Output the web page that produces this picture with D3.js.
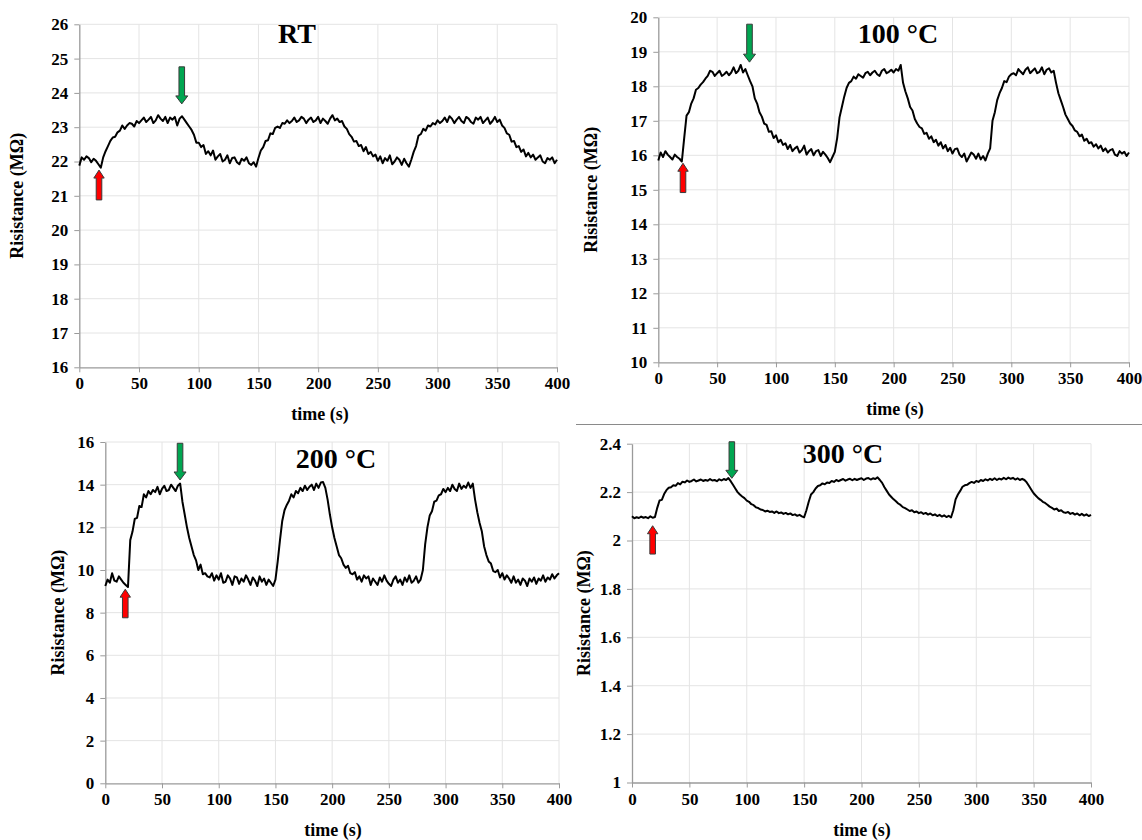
<!DOCTYPE html>
<html><head><meta charset="utf-8">
<script src="https://cdn.jsdelivr.net/npm/d3@7"></script>
<style>
body{margin:0;background:#fff}
svg{display:block}
text{font-family:"Liberation Serif","Times New Roman",serif;font-weight:bold;fill:#000}
</style>
</head><body><svg id="chart" width="1142" height="840"></svg>
<script>
// ---------------- DATA ----------------
const timeStep = 2; // seconds between samples, t = 0..400
const xTickValues = [0, 50, 100, 150, 200, 250, 300, 350, 400];
const panelTitles = ["RT", "100 °C", "200 °C", "300 °C"];
const xAxisTitle = "time (s)";
const yAxisTitle = "Risistance (MΩ)";

const yTicksRT = [16, 17, 18, 19, 20, 21, 22, 23, 24, 25, 26];
const yTicks100 = [10, 11, 12, 13, 14, 15, 16, 17, 18, 19, 20];
const yTicks200 = [0, 2, 4, 6, 8, 10, 12, 14, 16];
const yTicks300 = [1, 1.2, 1.4, 1.6, 1.8, 2, 2.2, 2.4];

const resistanceRT = [
  21.88, 22.12, 22.05, 22.15, 22.1, 21.98, 22.08, 22.02, 21.92, 21.82,
  22.12, 22.3, 22.45, 22.6, 22.7, 22.72, 22.85, 22.9, 23.05, 22.95,
  23.05, 23.12, 23.1, 23.02, 23.18, 23.12, 23.2, 23.28, 23.15, 23.22,
  23.3, 23.12, 23.2, 23.35, 23.25, 23.18, 23.3, 23.12, 23.28, 23.22,
  23.3, 23.05, 23.25, 23.32, 23.22, 23.12, 23.02, 22.92, 22.78, 22.55,
  22.55, 22.42, 22.48, 22.22, 22.3, 22.18, 22.32, 22.05, 22.15, 22.22,
  22.0, 22.05, 22.18, 21.95, 22.1, 22.12, 21.98, 21.92, 22.08, 22.02,
  22.12, 21.95, 21.9, 21.98, 21.85, 22.1, 22.32, 22.42, 22.6, 22.62,
  22.82, 22.8, 22.98, 23.02, 22.98, 23.12, 23.1, 23.2, 23.12, 23.18,
  23.28, 23.15, 23.2, 23.3, 23.25, 23.12, 23.22, 23.28, 23.15, 23.2,
  23.3, 23.12, 23.25, 23.18, 23.1, 23.25, 23.35, 23.2, 23.25, 23.15,
  23.18, 23.02, 22.95, 22.8, 22.72, 22.58, 22.6, 22.45, 22.48, 22.3,
  22.42, 22.22, 22.28, 22.15, 22.2, 22.02, 22.15, 21.95, 22.1, 22.02,
  22.18, 21.92, 22.0, 22.12, 22.05, 21.9, 22.08, 21.95, 21.85, 22.05,
  22.28, 22.45, 22.75, 22.8, 22.95, 22.9, 23.05, 23.02, 23.12, 23.08,
  23.2, 23.12, 23.18, 23.28, 23.15, 23.32, 23.25, 23.12, 23.22, 23.3,
  23.18, 23.12, 23.3, 23.25, 23.15, 23.1, 23.28, 23.22, 23.3, 23.12,
  23.2, 23.28, 23.1, 23.18, 23.3, 23.15, 23.22, 23.05, 22.98, 22.82,
  22.78, 22.58, 22.6, 22.42, 22.45, 22.28, 22.35, 22.15, 22.25, 22.12,
  22.2, 22.05, 22.12, 22.18, 22.0, 21.95, 22.1, 22.05, 22.12, 21.95,
  22.05
];

const resistance100 = [
  15.85, 16.08, 15.95, 16.12, 16.02, 15.95, 15.88, 16.02, 15.95, 15.9,
  15.82, 16.5, 17.15, 17.25, 17.5, 17.65, 17.9, 17.95, 18.05, 18.12,
  18.22, 18.3, 18.45, 18.42, 18.3, 18.38, 18.45, 18.3, 18.35, 18.42,
  18.32, 18.4, 18.55, 18.38, 18.45, 18.62, 18.4, 18.5, 18.32, 18.15,
  18.0, 17.65, 17.5, 17.25, 17.12, 16.92, 16.88, 16.68, 16.7, 16.5,
  16.58, 16.38, 16.45, 16.3, 16.35, 16.18, 16.3, 16.12, 16.2, 16.25,
  16.08, 16.15, 16.28, 16.02, 16.12, 16.18, 16.0, 16.12, 16.15, 15.98,
  16.1, 16.02, 15.92, 15.8, 15.95, 16.1, 16.5, 17.1, 17.4, 17.7,
  17.95, 18.1, 18.15, 18.28, 18.22, 18.35, 18.3, 18.25, 18.38, 18.42,
  18.32, 18.4, 18.45, 18.35, 18.3, 18.45, 18.5, 18.38, 18.42, 18.48,
  18.4, 18.5, 18.45, 18.62, 18.1, 17.85, 17.65, 17.4, 17.3, 17.05,
  16.92, 16.82, 16.78, 16.62, 16.65, 16.48, 16.55, 16.38, 16.45, 16.28,
  16.38, 16.2, 16.3, 16.12, 16.22, 16.05, 16.18, 16.2, 16.02, 15.95,
  16.05, 15.82, 15.95, 16.08, 16.02, 15.9, 16.05, 15.88, 15.98, 15.85,
  16.05, 16.2, 17.0, 17.25, 17.6, 17.8, 17.95, 18.15, 18.12, 18.28,
  18.35, 18.38, 18.32, 18.5, 18.42, 18.35, 18.48, 18.55, 18.38, 18.45,
  18.52, 18.38, 18.42, 18.55, 18.35, 18.48, 18.52, 18.4, 18.45, 18.1,
  17.8, 17.6, 17.4, 17.18, 17.05, 16.92, 16.85, 16.72, 16.68, 16.55,
  16.6, 16.42, 16.48, 16.35, 16.38, 16.25, 16.32, 16.2, 16.28, 16.12,
  16.2, 16.08, 16.15, 16.18, 16.02, 15.98, 16.12, 16.05, 16.1, 15.98,
  16.08
];

const resistance200 = [
  9.25, 9.55, 9.4, 9.85, 9.5, 9.45, 9.7, 9.55, 9.4, 9.3,
  9.2, 11.4, 11.8, 12.4, 12.45, 13.0, 12.95, 13.55, 13.4, 13.7,
  13.55, 13.75, 13.65, 13.9, 13.55, 13.8, 13.95, 13.7, 13.75, 14.0,
  13.85, 13.7, 13.95, 14.05, 13.2, 12.6, 12.0, 11.5, 11.1, 10.7,
  10.45, 10.0, 10.25, 9.8, 9.85, 9.7, 9.65, 9.85, 9.5, 9.75,
  9.55, 9.85, 9.4, 9.45, 9.75, 9.6, 9.3, 9.7, 9.65, 9.35,
  9.6, 9.45, 9.75, 9.55, 9.3, 9.65, 9.5, 9.25, 9.7, 9.45,
  9.6, 9.3, 9.55, 9.4, 9.25, 9.55, 10.4, 11.4, 12.3, 12.8,
  13.05, 13.25, 13.55, 13.4, 13.7, 13.6, 13.85, 13.7, 13.95, 13.75,
  13.9, 14.0, 13.75, 14.05, 13.85, 14.1, 14.12, 13.85, 13.3, 12.6,
  12.0, 11.5, 11.1, 10.7, 10.55, 10.25, 10.1, 10.2, 9.85, 9.8,
  9.9, 9.55, 9.7, 9.45, 9.75, 9.6, 9.7, 9.3, 9.6, 9.45,
  9.3, 9.65, 9.45, 9.75, 9.5, 9.35, 9.25, 9.55, 9.7, 9.4,
  9.55, 9.3, 9.65, 9.45, 9.75, 9.4, 9.5, 9.7, 9.4, 9.55,
  10.0, 11.2, 12.0, 12.55, 12.75, 13.2, 13.25, 13.5, 13.55, 13.8,
  13.65, 13.85, 13.7, 14.0, 13.8, 13.7, 14.05, 13.8, 13.95, 13.85,
  14.1, 13.85, 14.05, 13.3, 12.7, 12.2, 11.8, 11.1, 10.7, 10.4,
  10.3, 9.95, 9.9, 10.0, 9.65, 9.85, 9.55, 9.75, 9.6, 9.4,
  9.7, 9.4, 9.55, 9.3, 9.6, 9.5, 9.25, 9.6, 9.45, 9.65,
  9.35, 9.6, 9.5, 9.75, 9.45, 9.65, 9.55, 9.8, 9.6, 9.75,
  9.85
];

const resistance300 = [
  2.1, 2.092, 2.096, 2.093, 2.099, 2.094, 2.097, 2.092, 2.1, 2.094,
  2.097, 2.135, 2.165, 2.168, 2.192, 2.208, 2.218, 2.22, 2.228, 2.226,
  2.237, 2.232, 2.243, 2.24, 2.248, 2.242, 2.246, 2.252, 2.244, 2.248,
  2.252, 2.246, 2.25, 2.247, 2.254, 2.248, 2.25, 2.245, 2.253, 2.248,
  2.254, 2.25, 2.258, 2.245, 2.23, 2.215, 2.2, 2.19, 2.182, 2.175,
  2.165, 2.16, 2.15, 2.146, 2.137, 2.134, 2.128, 2.126, 2.12, 2.123,
  2.118, 2.12, 2.114, 2.12, 2.113, 2.116, 2.11, 2.114, 2.108, 2.112,
  2.105, 2.108, 2.102, 2.106, 2.1, 2.096, 2.125, 2.16, 2.19, 2.2,
  2.215, 2.225, 2.228, 2.236, 2.232, 2.24, 2.238, 2.246, 2.242, 2.25,
  2.245, 2.25, 2.254, 2.247, 2.252, 2.255, 2.249, 2.255, 2.25, 2.254,
  2.257, 2.25, 2.256, 2.258, 2.252, 2.257, 2.254, 2.261, 2.25, 2.238,
  2.22, 2.205, 2.19, 2.18, 2.17, 2.162, 2.153, 2.147, 2.138, 2.134,
  2.128, 2.122, 2.125, 2.117, 2.12, 2.113, 2.117, 2.11, 2.114, 2.107,
  2.112, 2.104, 2.108, 2.101, 2.106, 2.099, 2.104, 2.097, 2.102, 2.095,
  2.125, 2.17, 2.19, 2.205, 2.222, 2.228, 2.23, 2.237, 2.242, 2.238,
  2.246, 2.242, 2.25, 2.246, 2.253, 2.248, 2.255, 2.25, 2.257, 2.25,
  2.256, 2.252, 2.259, 2.253, 2.26, 2.255, 2.259, 2.252, 2.257, 2.25,
  2.255, 2.25, 2.24, 2.225, 2.21, 2.195, 2.185, 2.175, 2.168, 2.16,
  2.155, 2.148, 2.14, 2.135, 2.128, 2.132, 2.122, 2.125, 2.117, 2.114,
  2.118, 2.11, 2.114, 2.107, 2.112, 2.104, 2.11, 2.103, 2.108, 2.101,
  2.106
];

// gas on (red, up) / gas off (green, down) markers: [time, tip value, tail value]
const gasOnRT = [16.5, 21.75, 20.88], gasOffRT = [85.8, 23.68, 24.76];
const gasOn100 = [21, 15.77, 14.92], gasOff100 = [77.5, 18.7, 19.8];
const gasOn200 = [17.6, 9.1, 7.76], gasOff200 = [65.9, 14.22, 15.94];
const gasOn300 = [18, 2.061, 1.944], gasOff300 = [87, 2.257, 2.408];

// ---------------- LAYOUT ----------------
const panels = [
  {values: resistanceRT, yDomain: [16, 26], yTicks: yTicksRT, title: panelTitles[0], on: gasOnRT, off: gasOffRT,
   L: 79.3, R: 557, T: 24.3, B: 367.3, titleX: 297, titleY: 43, yTitleX: 17, xTitleX: 320},
  {values: resistance100, yDomain: [10, 20], yTicks: yTicks100, title: panelTitles[1], on: gasOn100, off: gasOff100,
   L: 658.3, R: 1129, T: 17.3, B: 362.3, titleX: 898, titleY: 43, yTitleX: 591, xTitleX: 895},
  {values: resistance200, yDomain: [0, 16], yTicks: yTicks200, title: panelTitles[2], on: gasOn200, off: gasOff200,
   L: 105.3, R: 559, T: 442, B: 783.3, titleX: 336, titleY: 468, yTitleX: 58, xTitleX: 333},
  {values: resistance300, yDomain: [1, 2.4], yTicks: yTicks300, title: panelTitles[3], on: gasOn300, off: gasOff300,
   L: 632, R: 1091, T: 443.7, B: 782.5, titleX: 843, titleY: 463, yTitleX: 584, xTitleX: 862}
];

const svg = d3.select("#chart");

// separator line (right column)
svg.append("line").attr("x1", 576).attr("x2", 1142).attr("y1", 424.5).attr("y2", 424.5)
  .attr("stroke", "#8a8a8a").attr("stroke-width", 1);

panels.forEach(p => {
  const g = svg.append("g");
  const x = d3.scaleLinear().domain([0, 400]).range([p.L, p.R]);
  const y = d3.scaleLinear().domain(p.yDomain).range([p.B, p.T]);

  // grid
  g.append("g").selectAll("line.v").data(xTickValues.slice(1)).join("line")
    .attr("x1", d => x(d)).attr("x2", d => x(d)).attr("y1", p.T).attr("y2", p.B)
    .attr("stroke", "#e4e4e4").attr("stroke-width", 1);
  g.append("g").selectAll("line.h").data(p.yTicks.slice(1)).join("line")
    .attr("x1", p.L).attr("x2", p.R).attr("y1", d => y(d)).attr("y2", d => y(d))
    .attr("stroke", "#e4e4e4").attr("stroke-width", 1);

  // axes
  const yAxis = g.append("g").attr("transform", `translate(${p.L},0)`)
    .call(d3.axisLeft(y).tickValues(p.yTicks).tickSize(5).tickSizeOuter(0).tickPadding(6).tickFormat(d => String(d)));
  const xAxis = g.append("g").attr("transform", `translate(0,${p.B})`)
    .call(d3.axisBottom(x).tickValues(xTickValues).tickSize(5).tickSizeOuter(0).tickPadding(5).tickFormat(d => String(d)));
  [yAxis, xAxis].forEach(a => {
    a.attr("font-family", null);
    a.select(".domain").attr("stroke", "#9a9a9a").attr("stroke-width", 1.3);
    a.selectAll(".tick line").attr("stroke", "#9a9a9a");
    a.selectAll(".tick text").style("font-family", '"Liberation Serif","Times New Roman",serif')
      .style("font-weight", "bold").style("font-size", "17px").attr("fill", "#000");
  });

  // curve
  const line = d3.line().x((d, i) => x(i * timeStep)).y(d => y(d));
  g.append("path").datum(p.values).attr("d", line)
    .attr("fill", "none").attr("stroke", "#000").attr("stroke-width", 2).attr("stroke-linejoin", "round");

  // arrows
  const arrow = (spec, fill, hw) => {
    const cx = x(spec[0]), tip = y(spec[1]), tail = y(spec[2]);
    const dir = tail > tip ? 1 : -1, h = 8, sw = 2.8;
    const pts = [[cx, tip], [cx + hw, tip + dir * h], [cx + sw, tip + dir * h], [cx + sw, tail],
                 [cx - sw, tail], [cx - sw, tip + dir * h], [cx - hw, tip + dir * h]];
    g.append("polygon").attr("points", pts.map(q => q.join(",")).join(" "))
      .attr("fill", fill).attr("stroke", "#3a3a3a").attr("stroke-width", 1);
  };
  arrow(p.on, "#ff0000", 5.2);
  arrow(p.off, "#00a651", 6);

  // titles
  g.append("text").attr("x", p.titleX).attr("y", p.titleY).attr("text-anchor", "middle")
    .style("font-size", "28px").text(p.title);
  g.append("text").attr("x", p.xTitleX).attr("y", p.B + 53).attr("text-anchor", "middle")
    .style("font-size", "18px").text(xAxisTitle);
  g.append("text").attr("transform", `translate(${p.yTitleX + 6},${(p.T + p.B) / 2}) rotate(-90)`)
    .attr("text-anchor", "middle").style("font-size", "18px").text(yAxisTitle);
});
</script>
</body></html>
